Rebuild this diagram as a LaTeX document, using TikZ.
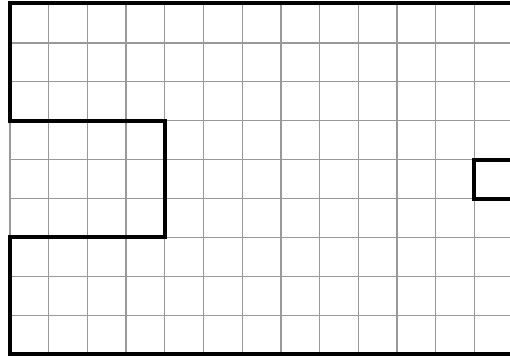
\documentclass[tikz,border=0pt]{standalone}
\begin{document}
\begin{tikzpicture}[x=1pt,y=-1pt,
  gridline/.style={draw=black!40,line width=1.3pt},
  outline/.style={draw=black,line width=4pt,line join=miter}]
\useasboundingbox (0,0) rectangle (510,360);
\clip (0,0) rectangle (510,360);
% grid
\foreach \i in {0,...,12} {
  \draw[gridline] ({10+38.7*\i},4) -- ({10+38.7*\i},354);
}
\foreach \j in {0,...,9} {
  \draw[gridline] (10,{4+38.9*\j}) -- (515,{4+38.9*\j});
}
% outline
\draw[outline] (520,3) -- (10,3) -- (10,120.7) -- (164.8,120.7) -- (164.8,237.4)
  -- (10,237.4) -- (10,354.1) -- (520,354.1);
\draw[outline] (520,159.6) -- (474.4,159.6) -- (474.4,198.5) -- (520,198.5);
\end{tikzpicture}
\end{document}
